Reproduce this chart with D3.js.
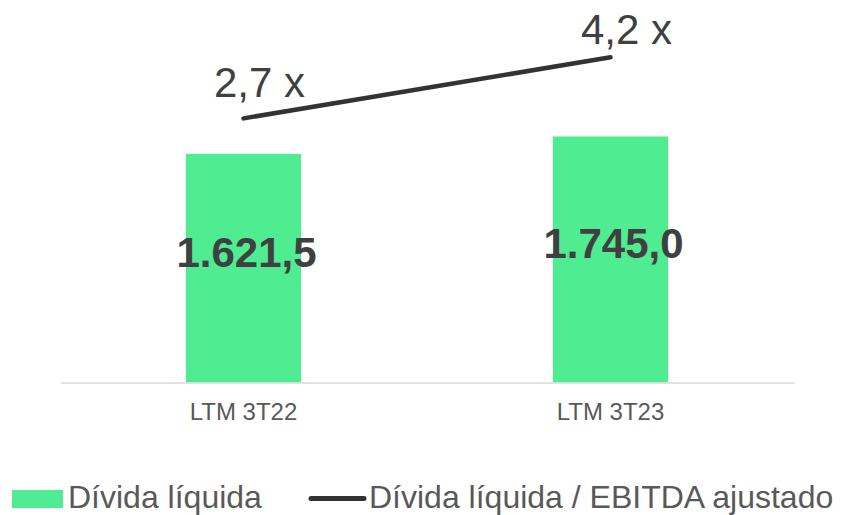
<!DOCTYPE html>
<html>
<head>
<meta charset="utf-8">
<script src="https://cdn.jsdelivr.net/npm/d3@7"></script>
<style>
  html, body { margin: 0; padding: 0; background: #ffffff; }
  svg { display: block; font-family: "Liberation Sans", Arial, Helvetica, sans-serif; }
</style>
</head>
<body>
<svg id="chart" width="841" height="515"></svg>
<script>
// ---- data ----
const categories = ["LTM 3T22", "LTM 3T23"];
const netDebt = [1621.5, 1745.0];          // Dívida líquida (bars)
const leverage = [2.7, 4.2];               // Dívida líquida / EBITDA ajustado (line)
const barLabels = ["1.621,5", "1.745,0"];
const lineLabels = ["2,7 x", "4,2 x"];
const seriesNames = ["Dívida líquida", "Dívida líquida / EBITDA ajustado"];

// ---- layout ----
const svg = d3.select("#chart");
const baseY = 382.5;
const green = "#4FEC91";
const dark = "#333333";

const x = d3.scaleBand().domain(categories).range([60, 794]).padding(0);
const barW = x.bandwidth() * 0.314;
const y = d3.scaleLinear().domain([0, 2500]).range([baseY, 30]);
const y2 = d3.scaleLinear().domain([0, 5]).range([228.2, 24.8]);

// bars
svg.selectAll("rect.bar").data(netDebt).enter().append("rect")
  .attr("class", "bar")
  .attr("x", (d, i) => x(categories[i]) + x.bandwidth() / 2 - barW / 2)
  .attr("y", d => y(d))
  .attr("width", barW)
  .attr("height", d => baseY - y(d))
  .attr("fill", green);

// x axis line
const xAxis = d3.axisBottom(x).tickSize(0).tickPadding(20);
const gx = svg.append("g").attr("transform", `translate(0,${baseY})`).call(xAxis);
gx.select(".domain").attr("stroke", "#d9d9d9").attr("stroke-width", 1.5);
gx.selectAll(".tick text")
  .attr("font-size", "24px")
  .attr("fill", "#595959")
  .attr("font-family", "'Liberation Sans', Arial, sans-serif");

// bar labels
svg.selectAll("text.barlabel").data(netDebt).enter().append("text")
  .attr("class", "barlabel")
  .attr("x", (d, i) => x(categories[i]) + x.bandwidth() / 2 + 3)
  .attr("y", d => (y(d) + baseY) / 2 - 1)
  .attr("text-anchor", "middle")
  .attr("font-size", "42px")
  .attr("font-weight", "bold")
  .attr("fill", "#404040")
  .text((d, i) => barLabels[i]);

// line
const line = d3.line()
  .x((d, i) => x(categories[i]) + x.bandwidth() / 2)
  .y(d => y2(d));
svg.append("path")
  .datum(leverage)
  .attr("d", line)
  .attr("fill", "none")
  .attr("stroke", dark)
  .attr("stroke-width", 4.5)
  .attr("stroke-linecap", "round");

// line labels (kept inside the top of the chart area)
svg.selectAll("text.linelabel").data(leverage).enter().append("text")
  .attr("class", "linelabel")
  .attr("x", (d, i) => x(categories[i]) + x.bandwidth() / 2 + 16)
  .attr("y", d => Math.max(y2(d) - 21, 44))
  .attr("text-anchor", "middle")
  .attr("font-size", "42px")
  .attr("fill", "#404040")
  .text((d, i) => lineLabels[i]);

// legend
const lg = svg.append("g");
lg.append("rect").attr("x", 12).attr("y", 490).attr("width", 51).attr("height", 18).attr("fill", green);
lg.append("text").attr("x", 68).attr("y", 508).attr("font-size", "32px").attr("fill", "#595959").text(seriesNames[0]);
lg.append("line").attr("x1", 311).attr("x2", 364).attr("y1", 498.5).attr("y2", 498.5)
  .attr("stroke", dark).attr("stroke-width", 5).attr("stroke-linecap", "round");
lg.append("text").attr("x", 369).attr("y", 508).attr("font-size", "32px").attr("fill", "#595959").text(seriesNames[1]);
</script>
</body>
</html>
